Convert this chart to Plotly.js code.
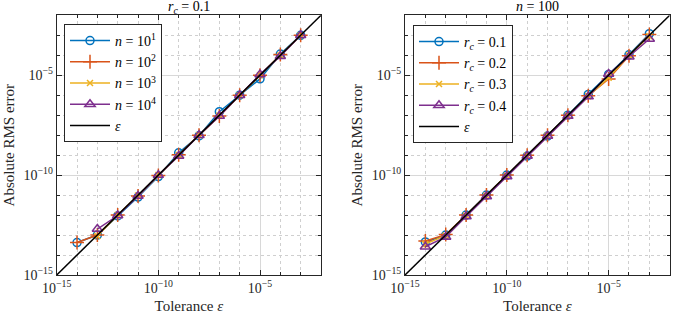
<!DOCTYPE html>
<html>
<head>
<meta charset="utf-8">
<script src="https://cdn.plot.ly/plotly-3.0.1.min.js"></script>
<style>html,body{margin:0;padding:0;background:#fff;}#chart{width:674px;height:314px;}</style>
</head>
<body>
<div id="chart"></div>
<script>
// Tolerance values (x)
const tolFull = [1e-14,1e-13,1e-12,1e-11,1e-10,1e-9,1e-8,1e-7,1e-6,1e-5,1e-4,1e-3];
const tolShort = [1e-13,1e-12,1e-11,1e-10,1e-9,1e-8,1e-7,1e-6,1e-5,1e-4,1e-3];

// Left panel: r_c = 0.1, varying n
const leftNames = ['<i>n</i> = 10<sup>1</sup>','<i>n</i> = 10<sup>2</sup>','<i>n</i> = 10<sup>3</sup>','<i>n</i> = 10<sup>4</sup>'];
const errN1 = [4.2e-14,1.0e-13,0.9e-12,0.8e-11,0.85e-10,1.3e-9,0.93e-8,1.5e-7,1.0e-6,0.66e-5,1.15e-4,1.0e-3];
const errN2 = [4.2e-14,1.0e-13,1.0e-12,0.9e-11,0.95e-10,1.05e-9,1.0e-8,0.9e-7,1.0e-6,1.0e-5,1.1e-4,1.0e-3];
const errN3 = [0.9e-13,1.0e-12,0.95e-11,1.0e-10,1.0e-9,1.0e-8,0.95e-7,1.0e-6,1.0e-5,1.0e-4,1.0e-3];
const errN4 = [2.0e-13,0.95e-12,0.9e-11,1.0e-10,0.9e-9,1.0e-8,0.9e-7,1.0e-6,1.1e-5,0.9e-4,1.0e-3];

// Right panel: n = 100, varying r_c
const rightNames = ['<i>r</i><sub><i>c</i></sub> = 0.1','<i>r</i><sub><i>c</i></sub> = 0.2','<i>r</i><sub><i>c</i></sub> = 0.3','<i>r</i><sub><i>c</i></sub> = 0.4'];
const errR1 = [4.5e-14,1.0e-13,1.0e-12,1.0e-11,1.0e-10,0.9e-9,0.9e-8,1.0e-7,1.1e-6,1.1e-5,1.05e-4,1.2e-3];
const errR2 = [5.0e-14,1.05e-13,1.0e-12,1.0e-11,1.0e-10,1.0e-9,1.0e-8,1.0e-7,0.95e-6,0.65e-5,0.95e-4,1.1e-3];
const errR3 = [3.5e-14,0.95e-13,0.95e-12,0.95e-11,0.95e-10,0.95e-9,0.95e-8,0.95e-7,0.9e-6,0.75e-5,1.0e-4,0.9e-3];
const errR4 = [2.6e-14,0.8e-13,0.85e-12,0.85e-11,0.85e-10,0.9e-9,0.9e-8,0.9e-7,0.85e-6,1.15e-5,0.85e-4,0.65e-3];

const epsLine = [1e-15, 1e-2];
const majorTicks = [1e-15,1e-10,1e-5];
const majorText = ['10<sup>−15</sup>','10<sup>−10</sup>','10<sup>−5</sup>'];
const minorTicks = [1e-14,1e-13,1e-12,1e-11,1e-9,1e-8,1e-7,1e-6,1e-4,1e-3];

const colors = ['#0072BD','#D95319','#EDB120','#7E2F8E'];
const symbols = ['circle-open','cross-thin-open','x-thin-open','triangle-up-open'];
const msizes = [8,10,6,9];
const FONT = 'Liberation Serif, DejaVu Serif, serif';

function series(x, y, name, i, xa, ya, leg) {
  return {x:x, y:y, name:name, type:'scatter', mode:'lines+markers',
    xaxis:xa, yaxis:ya, legend:leg,
    line:{color:colors[i], width:1.5},
    marker:{symbol:symbols[i], size:msizes[i], color:colors[i], line:{color:colors[i], width:1.5}}};
}
const traces = [
  series(tolFull, errN1, leftNames[0], 0, 'x','y','legend'),
  series(tolFull, errN2, leftNames[1], 1, 'x','y','legend'),
  series(tolShort, errN3, leftNames[2], 2, 'x','y','legend'),
  series(tolShort, errN4, leftNames[3], 3, 'x','y','legend'),
  {x:epsLine, y:epsLine, name:'<i>ε</i>', type:'scatter', mode:'lines', xaxis:'x', yaxis:'y', legend:'legend', line:{color:'#000', width:1.5}},
  series(tolFull, errR1, rightNames[0], 0, 'x2','y2','legend2'),
  series(tolFull, errR2, rightNames[1], 1, 'x2','y2','legend2'),
  series(tolFull, errR3, rightNames[2], 2, 'x2','y2','legend2'),
  series(tolFull, errR4, rightNames[3], 3, 'x2','y2','legend2'),
  {x:epsLine, y:epsLine, name:'<i>ε</i>', type:'scatter', mode:'lines', xaxis:'x2', yaxis:'y2', legend:'legend2', line:{color:'#000', width:1.5}}
];

function axis(domain, anchor, title) {
  return {type:'log', domain:domain, anchor:anchor, range:[-15,-2],
    tickvals:majorTicks, ticktext:majorText, ticks:'inside', ticklen:5, tickcolor:'#262626',
    showline:true, linecolor:'#262626', linewidth:1, mirror:'allticks',
    showgrid:true, gridcolor:'#d8d8d8', gridwidth:1, zeroline:false,
    minor:{tickvals:minorTicks, ticks:'inside', ticklen:3, tickcolor:'#262626', showgrid:true, gridcolor:'#cfcfcf', griddash:'dot', gridwidth:1},
    tickfont:{family:FONT, size:14, color:'#262626'},
    title:{text:title, font:{family:FONT, size:15, color:'#262626'}, standoff:5}};
}
const yd = [1-275/314, 1-15.3/314];
const legendBase = {bgcolor:'#fff', bordercolor:'#262626', borderwidth:1, font:{family:FONT, size:14, color:'#000'},
  xanchor:'left', yanchor:'top', tracegroupgap:0, itemwidth:40};
const layout = {
  width:674, height:314, margin:{l:0,r:0,t:0,b:0}, paper_bgcolor:'#fff', plot_bgcolor:'#fff',
  showlegend:true,
  xaxis: axis([56.7/674, 321/674], 'y', 'Tolerance <i>ε</i>'),
  yaxis: axis(yd, 'x', 'Absolute RMS error'),
  xaxis2: axis([405/674, 669.7/674], 'y2', 'Tolerance <i>ε</i>'),
  yaxis2: axis(yd, 'x2', 'Absolute RMS error'),
  legend: Object.assign({}, legendBase, {x:64/674, y:1-24/314}),
  legend2: Object.assign({}, legendBase, {x:413/674, y:1-25/314}),
  annotations:[
    {text:'<i>r</i><sub><i>c</i></sub> = 0.1', xref:'paper', yref:'paper', x:(56.7+321)/2/674, y:1-8/314, xanchor:'center', yanchor:'middle', borderpad:0, showarrow:false, font:{family:FONT, size:14, color:'#000'}},
    {text:'<i>n</i> = 100', xref:'paper', yref:'paper', x:(405+669.7)/2/674, y:1-7/314, xanchor:'center', yanchor:'middle', borderpad:0, showarrow:false, font:{family:FONT, size:14, color:'#000'}}
  ]
};
Plotly.newPlot('chart', traces, layout, {displayModeBar:false, staticPlot:true});
</script>
</body>
</html>
